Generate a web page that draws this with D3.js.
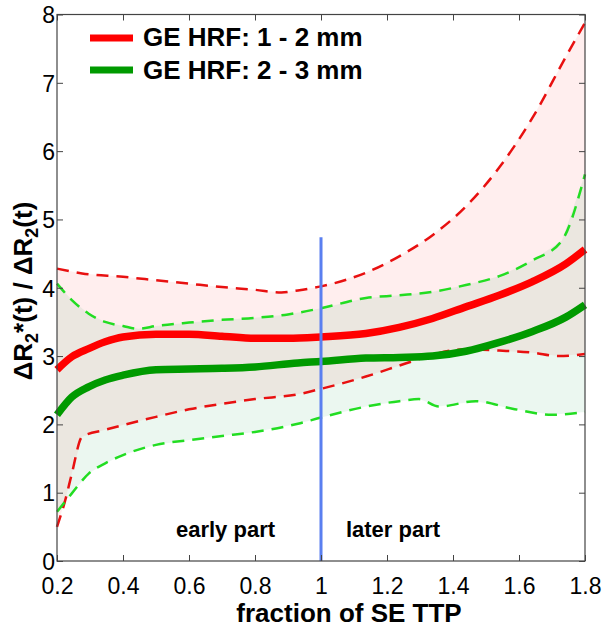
<!DOCTYPE html>
<html><head><meta charset="utf-8">
<script src="https://cdn.jsdelivr.net/npm/d3@7"></script>
<style>body{margin:0;background:#fff}svg{display:block}text{font-family:"Liberation Sans",Arial,sans-serif}</style>
</head><body><svg id="c" width="609" height="632"></svg>
<script>
// ---- data ----
const xTicks = [0.2,0.4,0.6,0.8,1.0,1.2,1.4,1.6,1.8];
const xTickLabels = ["0.2","0.4","0.6","0.8","1","1.2","1.4","1.6","1.8"];
const yTicks = [0,1,2,3,4,5,6,7,8];

const redUpperX = [0.2,0.276,0.4,0.5,0.6,0.7,0.8,0.88,0.93,1.0,1.136,1.237,1.338,1.439,1.54,1.641,1.742,1.8];
const redUpperY = [4.28,4.21,4.16,4.11,4.06,4.01,3.97,3.93,3.96,4.02,4.22,4.46,4.77,5.19,5.76,6.49,7.38,7.88];
const greenUpperX = [0.2,0.245,0.296,0.346,0.4,0.447,0.5,0.6,0.7,0.8,0.9,1.0,1.136,1.237,1.338,1.439,1.54,1.641,1.73,1.8];
const greenUpperY = [4.06,3.82,3.62,3.50,3.44,3.40,3.44,3.49,3.53,3.56,3.61,3.70,3.85,3.89,3.94,4.04,4.17,4.40,4.69,5.66];
const redMeanX = [0.2,0.245,0.296,0.346,0.4,0.5,0.6,0.7,0.8,0.9,1.0,1.136,1.237,1.338,1.439,1.54,1.641,1.742,1.8];
const redMeanY = [2.80,2.99,3.11,3.21,3.28,3.32,3.32,3.29,3.26,3.26,3.28,3.33,3.42,3.55,3.72,3.89,4.09,4.35,4.56];
const greenMeanX = [0.2,0.245,0.296,0.346,0.4,0.5,0.6,0.7,0.8,0.93,1.0,1.136,1.237,1.338,1.439,1.54,1.641,1.742,1.8];
const greenMeanY = [2.14,2.40,2.55,2.65,2.72,2.80,2.81,2.82,2.84,2.90,2.92,2.97,2.98,3.00,3.07,3.20,3.36,3.57,3.75];
const redLowerX = [0.2,0.225,0.245,0.276,0.346,0.4,0.5,0.6,0.7,0.8,0.93,1.0,1.136,1.237,1.287,1.338,1.439,1.54,1.641,1.72,1.8];
const redLowerY = [0.50,0.89,1.28,1.82,1.92,1.99,2.11,2.22,2.30,2.37,2.44,2.52,2.70,2.86,2.94,3.02,3.10,3.08,3.05,3.00,3.03];
const greenLowerX = [0.2,0.245,0.296,0.346,0.4,0.5,0.6,0.7,0.8,0.93,1.0,1.136,1.237,1.297,1.358,1.469,1.58,1.70,1.8];
const greenLowerY = [0.72,0.99,1.28,1.43,1.55,1.70,1.77,1.83,1.89,2.01,2.10,2.26,2.34,2.37,2.26,2.34,2.23,2.14,2.18];
const dividerX = 1.0;
const dividerTop = 4.74;
const legendLabels = ["GE HRF: 1 - 2 mm","GE HRF: 2 - 3 mm"];

// ---- layout ----
const L=57, R=585, T=14.5, B=561;
const svg = d3.select("#c");
const x = d3.scaleLinear().domain([0.2,1.8]).range([L,R]);
const y = d3.scaleLinear().domain([0,8]).range([B,T]);
const pts = (xs,ys)=>xs.map((v,i)=>[v,ys[i]]);
const line = d3.line().x(d=>x(d[0])).y(d=>y(d[1])).curve(d3.curveMonotoneX);
const poly = d3.line().x(d=>x(d[0])).y(d=>y(d[1]));

const RED="#ff0000", GREEN="#009a00", RDASH="#e81010", GDASH="#22dd22";

// fills
svg.append("path").attr("d", poly(pts(redUpperX,redUpperY).concat(pts(redLowerX,redLowerY).reverse()))+"Z")
  .attr("fill","rgb(255,0,0)").attr("fill-opacity",0.065);
svg.append("path").attr("d", poly(pts(greenUpperX,greenUpperY).concat(pts(greenLowerX,greenLowerY).reverse()))+"Z")
  .attr("fill","rgb(0,150,70)").attr("fill-opacity",0.08);

// dashed bounds
[[redUpperX,redUpperY,RDASH],[redLowerX,redLowerY,RDASH],[greenUpperX,greenUpperY,GDASH],[greenLowerX,greenLowerY,GDASH]]
 .forEach(([xs,ys,c])=>svg.append("path").attr("d",line(pts(xs,ys))).attr("fill","none")
   .attr("stroke",c).attr("stroke-width",2.5).attr("stroke-dasharray","12,8"));

// means
svg.append("path").attr("d",line(pts(redMeanX,redMeanY))).attr("fill","none").attr("stroke",RED).attr("stroke-width",7.5);
svg.append("path").attr("d",line(pts(greenMeanX,greenMeanY))).attr("fill","none").attr("stroke",GREEN).attr("stroke-width",7.5);

// divider
svg.append("line").attr("x1",x(dividerX)).attr("x2",x(dividerX)).attr("y1",y(0)).attr("y2",y(dividerTop))
  .attr("stroke","#5a7ff0").attr("stroke-width",3);

// axes box
const AX="#444";
svg.append("rect").attr("x",L).attr("y",T).attr("width",R-L).attr("height",B-T).attr("fill","none").attr("stroke",AX).attr("stroke-width",1.2);
const xb = svg.append("g").attr("transform",`translate(0,${B})`).call(d3.axisBottom(x).tickValues(xTicks).tickSizeInner(-6).tickSizeOuter(0).tickFormat((d,i)=>xTickLabels[i]));
const xt = svg.append("g").attr("transform",`translate(0,${T})`).call(d3.axisTop(x).tickValues(xTicks).tickSizeInner(-6).tickSizeOuter(0).tickFormat(""));
const yl = svg.append("g").attr("transform",`translate(${L},0)`).call(d3.axisLeft(y).tickValues(yTicks).tickSizeInner(-6).tickSizeOuter(0).tickFormat(d3.format("d")));
const yr = svg.append("g").attr("transform",`translate(${R},0)`).call(d3.axisRight(y).tickValues(yTicks).tickSizeInner(-6).tickSizeOuter(0).tickFormat(""));
[xb,xt,yl,yr].forEach(g=>{g.select(".domain").remove();g.selectAll("line").attr("stroke",AX);
  g.selectAll("text").attr("fill","#000").style("font-size","23px").style("font-family","'Liberation Sans',Arial,sans-serif");});
xb.selectAll("text").attr("dy",null).attr("y",33);
yl.selectAll("text").attr("x",-2).attr("dy","0.36em");

// labels
svg.append("text").attr("x",349).attr("y",622).attr("text-anchor","middle")
  .style("font-size","26px").style("font-weight","bold").text("fraction of SE TTP");
const yt = svg.append("text").attr("transform","translate(32,291) rotate(-90)").attr("text-anchor","middle")
  .style("font-size","26px").style("font-weight","bold");
yt.append("tspan").text("\u0394R");
yt.append("tspan").attr("dy",6).style("font-size","18px").text("2");
yt.append("tspan").attr("dy",-6).text("*(t) / \u0394R");
yt.append("tspan").attr("dy",6).style("font-size","18px").text("2");
yt.append("tspan").attr("dy",-6).text("(t)");

svg.append("text").attr("x",225.5).attr("y",537).attr("text-anchor","middle").style("font-size","22px").style("font-weight","bold").text("early part");
svg.append("text").attr("x",393).attr("y",537).attr("text-anchor","middle").style("font-size","22px").style("font-weight","bold").text("later part");

// legend
[[RED,38,46],[GREEN,70,79]].forEach(([c,ly,ty],i)=>{
  svg.append("line").attr("x1",90).attr("x2",133).attr("y1",ly).attr("y2",ly).attr("stroke",c).attr("stroke-width",7);
  svg.append("text").attr("x",143).attr("y",ty).style("font-size","26px").style("font-weight","bold").text(legendLabels[i]);
});
</script></body></html>
